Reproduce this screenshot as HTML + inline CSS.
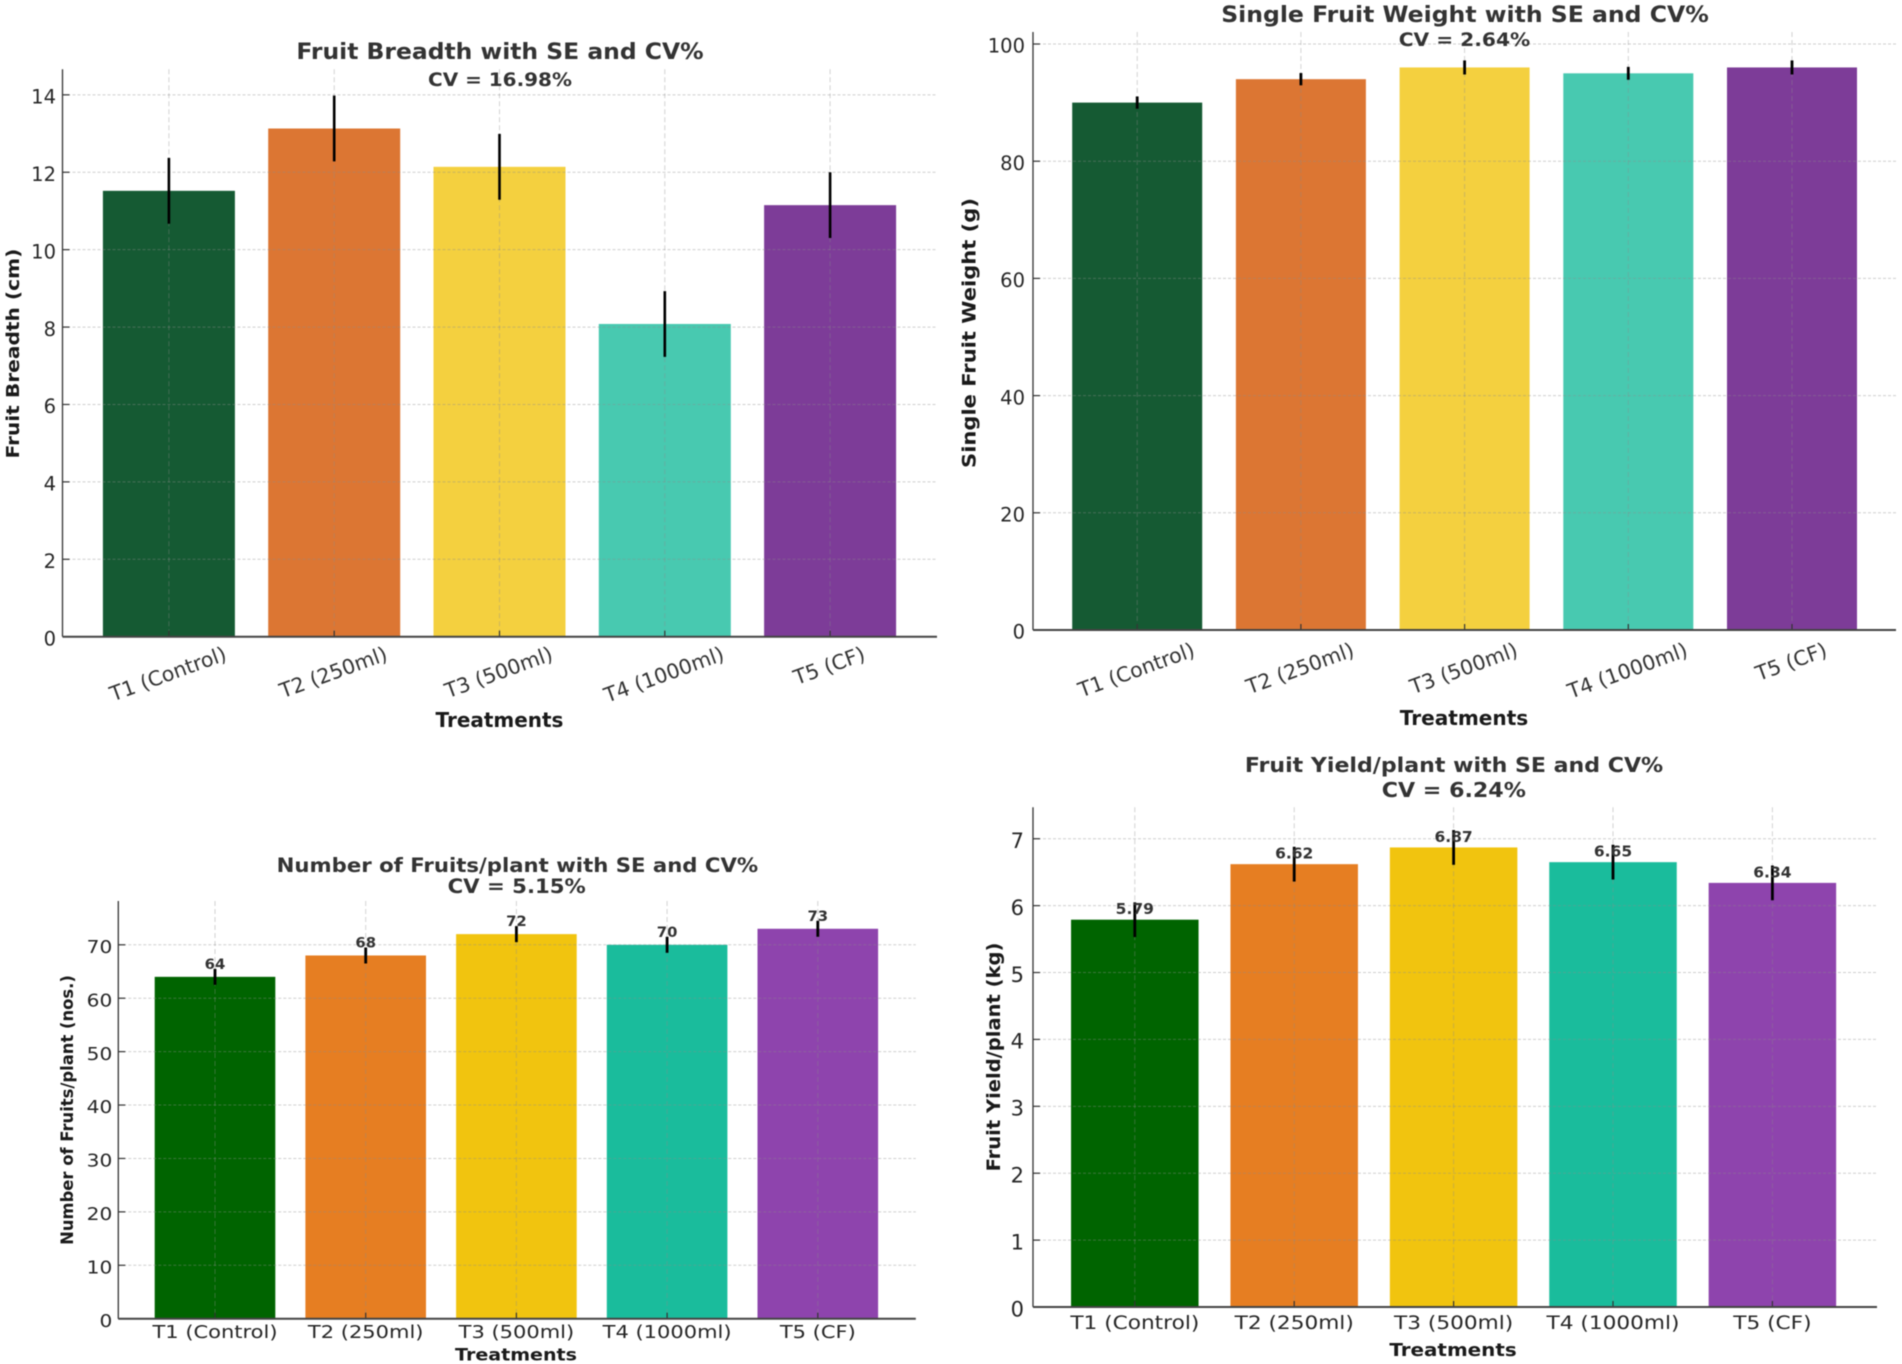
<!DOCTYPE html>
<html lang="en">
<head>
<meta charset="utf-8">
<title>Fruit traits with SE and CV%</title>
<style>
  html, body { margin: 0; padding: 0; background: #fff; }
  #figure { display: block; width: 1902px; height: 1364px; background: #fff; filter: blur(0.45px); }
  text { font-family: "DejaVu Sans", "Liberation Sans", sans-serif; }
</style>
</head>
<body>
<svg id="figure" xmlns="http://www.w3.org/2000/svg" width="1902" height="1364" viewBox="0 0 1902 1364"></svg>
<script>
const categories = ["T1 (Control)", "T2 (250ml)", "T3 (500ml)", "T4 (1000ml)", "T5 (CF)"];

const breadthValues = [11.52, 13.13, 12.14, 8.08, 11.15];
const breadthErrors = [0.85, 0.85, 0.85, 0.85, 0.85];
const breadthTicks = [0, 2, 4, 6, 8, 10, 12, 14];

const weightValues = [90, 94, 96, 95, 96];
const weightErrors = [1.05, 1.05, 1.2, 1.1, 1.2];
const weightTicks = [0, 20, 40, 60, 80, 100];

const countValues = [64, 68, 72, 70, 73];
const countErrors = [1.5, 1.5, 1.5, 1.5, 1.5];
const countTicks = [0, 10, 20, 30, 40, 50, 60, 70];
const countLabels = ["64", "68", "72", "70", "73"];

const yieldValues = [5.79, 6.62, 6.87, 6.65, 6.34];
const yieldErrors = [0.26, 0.26, 0.26, 0.26, 0.26];
const yieldTicks = [0, 1, 2, 3, 4, 5, 6, 7];
const yieldLabels = ["5.79", "6.62", "6.87", "6.65", "6.34"];

const mutedColors = ["#155a33", "#dc7633", "#f4d03f", "#48c9b0", "#7d3c98"];
const vividColors = ["#006400", "#e67e22", "#f1c40f", "#1abc9c", "#8e44ad"];

const panels = [
  { name: "fruit-breadth", values: breadthValues, errors: breadthErrors, ticks: breadthTicks, labels: null, colors: mutedColors,
    yMax: 14.66, left: 62.5, right: 937, top: 69.3, bottom: 636.7, firstCenter: 168.9, step: 165.3, barW: 132,
    title: "Fruit Breadth with SE and CV%", titleX: 500, titleY: 51, titleW: 407.5, titleFs: 22.5,
    cv: "CV = 16.98%", cvX: 500, cvY: 79.3, cvW: 144, cvFs: 19,
    yLabel: "Fruit Breadth (cm)", yLabelX: 12.5, yLabelY: 353.6, yLabelLen: 210, yLabelFs: 18,
    xLabelX: 499.5, xLabelY: 719.3, xLabelW: 128, xLabelFs: 20.5,
    tickFs: 19.5, tickSx: 1, tickGap: 6.5, xFs: 20.5, xSx: 1, xRot: -20, xTop: 643, errW: 2.6 },
  { name: "single-fruit-weight", values: weightValues, errors: weightErrors, ticks: weightTicks, labels: null, colors: mutedColors,
    yMax: 102.05, left: 1033, right: 1896, top: 32, bottom: 630, firstCenter: 1137.2, step: 163.7, barW: 130,
    title: "Single Fruit Weight with SE and CV%", titleX: 1465, titleY: 14, titleW: 488, titleFs: 22.5,
    cv: "CV = 2.64%", cvX: 1464.5, cvY: 39, cvW: 131.6, cvFs: 19,
    yLabel: "Single Fruit Weight (g)", yLabelX: 968.5, yLabelY: 333, yLabelLen: 270, yLabelFs: 19,
    xLabelX: 1464, xLabelY: 717.3, xLabelW: 128.6, xLabelFs: 20.5,
    tickFs: 19.5, tickSx: 1, tickGap: 8, xFs: 20.5, xSx: 1, xRot: -20, xTop: 639, errW: 2.8 },
  { name: "fruits-per-plant", values: countValues, errors: countErrors, ticks: countTicks, labels: countLabels, colors: vividColors,
    yMax: 78.2, left: 118.3, right: 915.8, top: 901, bottom: 1318.7, firstCenter: 215, step: 150.7, barW: 120.6,
    title: "Number of Fruits/plant with SE and CV%", titleX: 517.4, titleY: 865, titleW: 481.6, titleFs: 19.5,
    cv: "CV = 5.15%", cvX: 516.7, cvY: 886, cvW: 138.3, cvFs: 19.5,
    yLabel: "Number of Fruits/plant (nos.)", yLabelX: 67, yLabelY: 1110, yLabelLen: 270, yLabelFs: 16.5,
    xLabelX: 516, xLabelY: 1354.3, xLabelW: 122, xLabelFs: 16.5,
    tickFs: 18, tickSx: 1.12, tickGap: 6, xFs: 17.5, xSx: 1.2, xRot: 0, xCenterY: 1331.7, errW: 2.8,
    valueFs: 14, valueSx: 1.06, valueGap: 13 },
  { name: "fruit-yield", values: yieldValues, errors: yieldErrors, ticks: yieldTicks, labels: yieldLabels, colors: vividColors,
    yMax: 7.47, left: 1033, right: 1877, top: 807.3, bottom: 1307, firstCenter: 1134.8, step: 159.4, barW: 127.5,
    title: "Fruit Yield/plant with SE and CV%", titleX: 1454, titleY: 764.3, titleW: 418.5, titleFs: 20.5,
    cv: "CV = 6.24%", cvX: 1453.8, cvY: 789.7, cvW: 144.3, cvFs: 20.5,
    yLabel: "Fruit Yield/plant (kg)", yLabelX: 993, yLabelY: 1057, yLabelLen: 229, yLabelFs: 19,
    xLabelX: 1453, xLabelY: 1349.3, xLabelW: 127.4, xLabelFs: 18,
    tickFs: 21, tickSx: 1, tickGap: 9, xFs: 18.5, xSx: 1.17, xRot: 0, xCenterY: 1322.3, errW: 2.8,
    valueFs: 15.5, valueSx: 1.0, valueGap: 11.3 }
];

const NS = "http://www.w3.org/2000/svg";
const svg = document.getElementById("figure");

function line(parent, x1, y1, x2, y2, stroke, width, dash) {
  const el = document.createElementNS(NS, "line");
  el.setAttribute("x1", x1);
  el.setAttribute("y1", y1);
  el.setAttribute("x2", x2);
  el.setAttribute("y2", y2);
  el.setAttribute("stroke", stroke);
  el.setAttribute("stroke-width", width);
  if (dash) el.setAttribute("stroke-dasharray", dash);
  parent.appendChild(el);
  return el;
}

function label(parent, str, x, y, o) {
  const el = document.createElementNS(NS, "text");
  el.textContent = str;
  el.setAttribute("x", 0);
  el.setAttribute("y", 0.365 * o.fs);
  el.setAttribute("font-size", o.fs);
  el.setAttribute("fill", o.fill || "#262626");
  el.setAttribute("text-anchor", o.anchor || "middle");
  if (o.bold) el.setAttribute("font-weight", "bold");
  parent.appendChild(el);
  const measured = el.getComputedTextLength();
  const sx = o.w ? o.w / measured : (o.sx || 1);
  const rot = o.rot || 0;
  const yy = (o.top !== undefined)
    ? o.top + (measured * sx * Math.abs(Math.sin(rot * Math.PI / 180)) + o.fs * Math.cos(rot * Math.PI / 180)) / 2
    : y;
  el.setAttribute("transform", "translate(" + x + " " + yy + ") rotate(" + rot + ") scale(" + sx + " 1)");
  return el;
}

function drawPanel(p) {
  const g = document.createElementNS(NS, "g");
  
  
  svg.appendChild(g);

  const yScale = v => p.bottom - v * (p.bottom - p.top) / p.yMax;
  const xScale = i => p.firstCenter + i * p.step;

  p.values.forEach((v, i) => {
    const bar = document.createElementNS(NS, "rect");
    bar.setAttribute("x", xScale(i) - p.barW / 2);
    bar.setAttribute("y", yScale(v));
    bar.setAttribute("width", p.barW);
    bar.setAttribute("height", p.bottom - yScale(v));
    bar.setAttribute("fill", p.colors[i]);
    
    
    g.appendChild(bar);
  });

  p.ticks.forEach(t => {
    const grid = line(g, p.left, yScale(t), p.right, yScale(t), "rgba(140,140,140,0.42)", 1, "3 2");
    
    
    const mark = line(g, p.left, yScale(t), p.left + 7, yScale(t), "#333", 1.2);
    
    
    const tl = label(g, String(t), p.left - p.tickGap, yScale(t) + 1.6, { fs: p.tickFs, sx: p.tickSx, anchor: "end", fill: "#262626" });
    
    
  });

  categories.forEach((c, i) => {
    const grid = line(g, xScale(i), p.top, xScale(i), p.bottom, "rgba(140,140,140,0.38)", 1, "5 3");
    
    
    const mark = line(g, xScale(i), p.bottom - 6, xScale(i), p.bottom, "#333", 1.2);
    
    
    const opts = p.xRot
      ? { fs: p.xFs, sx: p.xSx, rot: p.xRot, top: p.xTop, fill: "#333" }
      : { fs: p.xFs, sx: p.xSx, fill: "#262626" };
    const tl = label(g, c, xScale(i) - (p.xRot ? 1 : 0), p.xCenterY, opts);
    
    
  });

  p.values.forEach((v, i) => {
    const err = line(g, xScale(i), yScale(v + p.errors[i]), xScale(i), yScale(v - p.errors[i]), "#000", p.errW);
    
    
    if (p.labels) {
      const vl = label(g, p.labels[i], xScale(i), yScale(v) - p.valueGap, { fs: p.valueFs, sx: p.valueSx, bold: true, fill: "#333" });
      
      
    }
  });

  const spineY = line(g, p.left, p.top, p.left, p.bottom, "#333", 1.3);
  
  
  const spineX = line(g, p.left, p.bottom, p.right, p.bottom, "#444", 2);
  
  

  const title = label(g, p.title, p.titleX, p.titleY, { fs: p.titleFs, w: p.titleW, bold: true, fill: "#333" });
  
  
  const cv = label(g, p.cv, p.cvX, p.cvY, { fs: p.cvFs, w: p.cvW, bold: true, fill: "#333" });
  
  
  const yt = label(g, p.yLabel, p.yLabelX, p.yLabelY, { fs: p.yLabelFs, w: p.yLabelLen, rot: -90, bold: true, fill: "#1a1a1a" });
  
  
  const xt = label(g, "Treatments", p.xLabelX, p.xLabelY, { fs: p.xLabelFs, w: p.xLabelW, bold: true, fill: "#1a1a1a" });
  
  
}

panels.forEach(drawPanel);
</script>
</body>
</html>
